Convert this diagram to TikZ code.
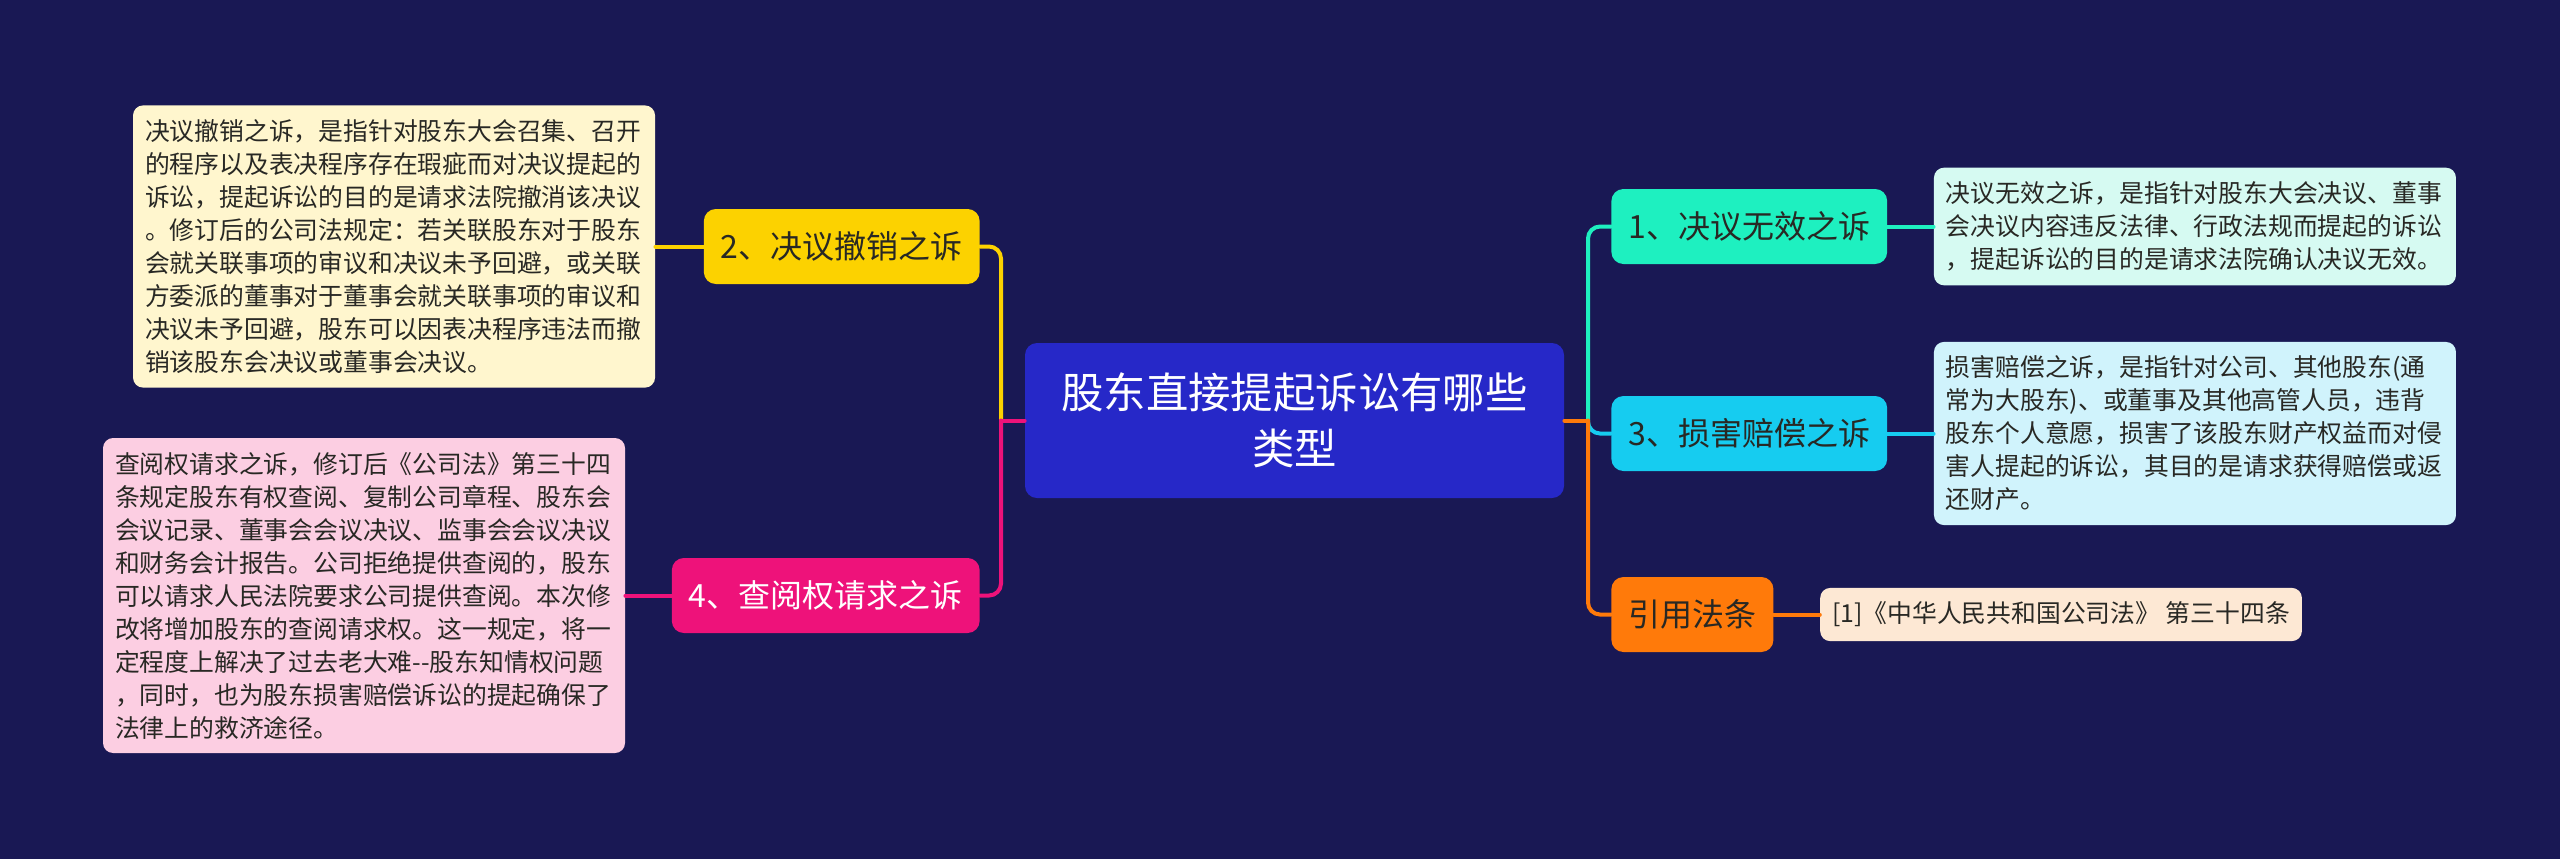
\documentclass[tikz,border=0pt]{standalone}
\usepackage{fontspec}
\setmainfont{Noto Sans CJK SC}
\usetikzlibrary{positioning}
\definecolor{bgnavy}{RGB}{25,24,84}
\definecolor{rootblue}{RGB}{38,40,200}
\definecolor{mint}{RGB}{30,240,192}
\definecolor{sky}{RGB}{22,204,240}
\definecolor{amber}{RGB}{252,210,0}
\definecolor{rose}{RGB}{238,18,122}
\definecolor{tangerine}{RGB}{255,122,10}
\definecolor{mintleaf}{RGB}{214,250,242}
\definecolor{skyleaf}{RGB}{208,243,252}
\definecolor{amberleaf}{RGB}{255,246,206}
\definecolor{roseleaf}{RGB}{252,206,226}
\definecolor{tanleaf}{RGB}{253,232,212}
\definecolor{ink}{RGB}{40,40,36}

\begin{document}
\begin{tikzpicture}[x=0.5pt, y=-0.5pt,
  root/.style={fill=rootblue, rounded corners=6pt, text=white, align=center,
    font=\fontsize{21.2pt}{27.8pt}\selectfont, minimum width=269.5pt, minimum height=77.5pt},
  topic/.style={rounded corners=6pt, text=ink, font=\fontsize{16pt}{19pt}\selectfont,
    inner xsep=8.5pt, minimum height=37.5pt},
  leaf/.style={rounded corners=5pt, text=ink, font=\fontsize{12.4pt}{16.5pt}\selectfont,
    align=left, inner xsep=6pt, inner ysep=7pt},
  leafbox/.style={leaf, text width=249pt},
  link/.style={line width=2pt, line cap=round, rounded corners=6pt},
  node distance=23pt]
\useasboundingbox (0,0) rectangle (2560,859);
\fill[bgnavy] (0,0) rectangle (2560,859);

\node[root] (root) at (1294.5,420.5) {股东直接提起诉讼有哪些\\类型};
\node[topic, fill=mint, anchor=west] (n1) at (1611,226.5) {1、决议无效之诉};
\node[topic, fill=sky, anchor=west] (n3) at (1611,433.5) {3、损害赔偿之诉};
\node[topic, fill=tangerine, anchor=west] (cite) at (1611,614.5) {引用法条};
\node[topic, fill=amber, anchor=east] (n2) at (980,246.5) {2、决议撤销之诉};
\node[topic, fill=rose, text=white, anchor=east] (n4) at (980,595.5) {4、查阅权请求之诉};

\node[leafbox, fill=mintleaf, right=of n1] (l1) {决议无效之诉，是指针对股东大会决议、董事\\会决议内容违反法律、行政法规而提起的诉讼\\，提起诉讼的目的是请求法院确认决议无效。};
\node[leafbox, fill=skyleaf, right=of n3] (l3) {损害赔偿之诉，是指针对公司、其他股东(通\\常为大股东)、或董事及其他高管人员，违背\\股东个人意愿，损害了该股东财产权益而对侵\\害人提起的诉讼，其目的是请求获得赔偿或返\\还财产。};
\node[leaf, fill=tanleaf, right=of cite] (lc) {[1]《中华人民共和国公司法》 第三十四条};
\node[leafbox, fill=amberleaf, left=24pt of n2] (l2) {决议撤销之诉，是指针对股东大会召集、召开\\的程序以及表决程序存在瑕疵而对决议提起的\\诉讼，提起诉讼的目的是请求法院撤消该决议\\。修订后的公司法规定：若关联股东对于股东\\会就关联事项的审议和决议未予回避，或关联\\方委派的董事对于董事会就关联事项的审议和\\决议未予回避，股东可以因表决程序违法而撤\\销该股东会决议或董事会决议。};
\node[leafbox, fill=roseleaf, left=of n4] (l4) {查阅权请求之诉，修订后《公司法》第三十四\\条规定股东有权查阅、复制公司章程、股东会\\会议记录、董事会会议决议、监事会会议决议\\和财务会计报告。公司拒绝提供查阅的，股东\\可以请求人民法院要求公司提供查阅。本次修\\改将增加股东的查阅请求权。这一规定，将一\\定程度上解决了过去老大难-\kern0pt-股东知情权问题\\，同时，也为股东损害赔偿诉讼的提起确保了\\法律上的救济途径。};

\coordinate (jl) at (1001,420.5);
\coordinate (jr) at (1588,420.5);
\draw[link, amber] (jl) |- (n2.east);
\draw[link, rose] (jl) |- (n4.east);
\draw[link, rose] (root.west) -- (jl);
\draw[link, mint] (jr) |- (n1.west);
\draw[link, sky] (jr) |- (n3.west);
\draw[link, tangerine] (jr) |- (cite.west);
\draw[link, tangerine] (root.east) -- (jr);

\draw[link, mint] (n1) -- (l1);
\draw[link, sky] (n3) -- (l3);
\draw[link, tangerine] (cite) -- (lc);
\draw[link, amber] (n2) -- (l2);
\draw[link, rose] (n4) -- (l4);
\end{tikzpicture}
\end{document}
